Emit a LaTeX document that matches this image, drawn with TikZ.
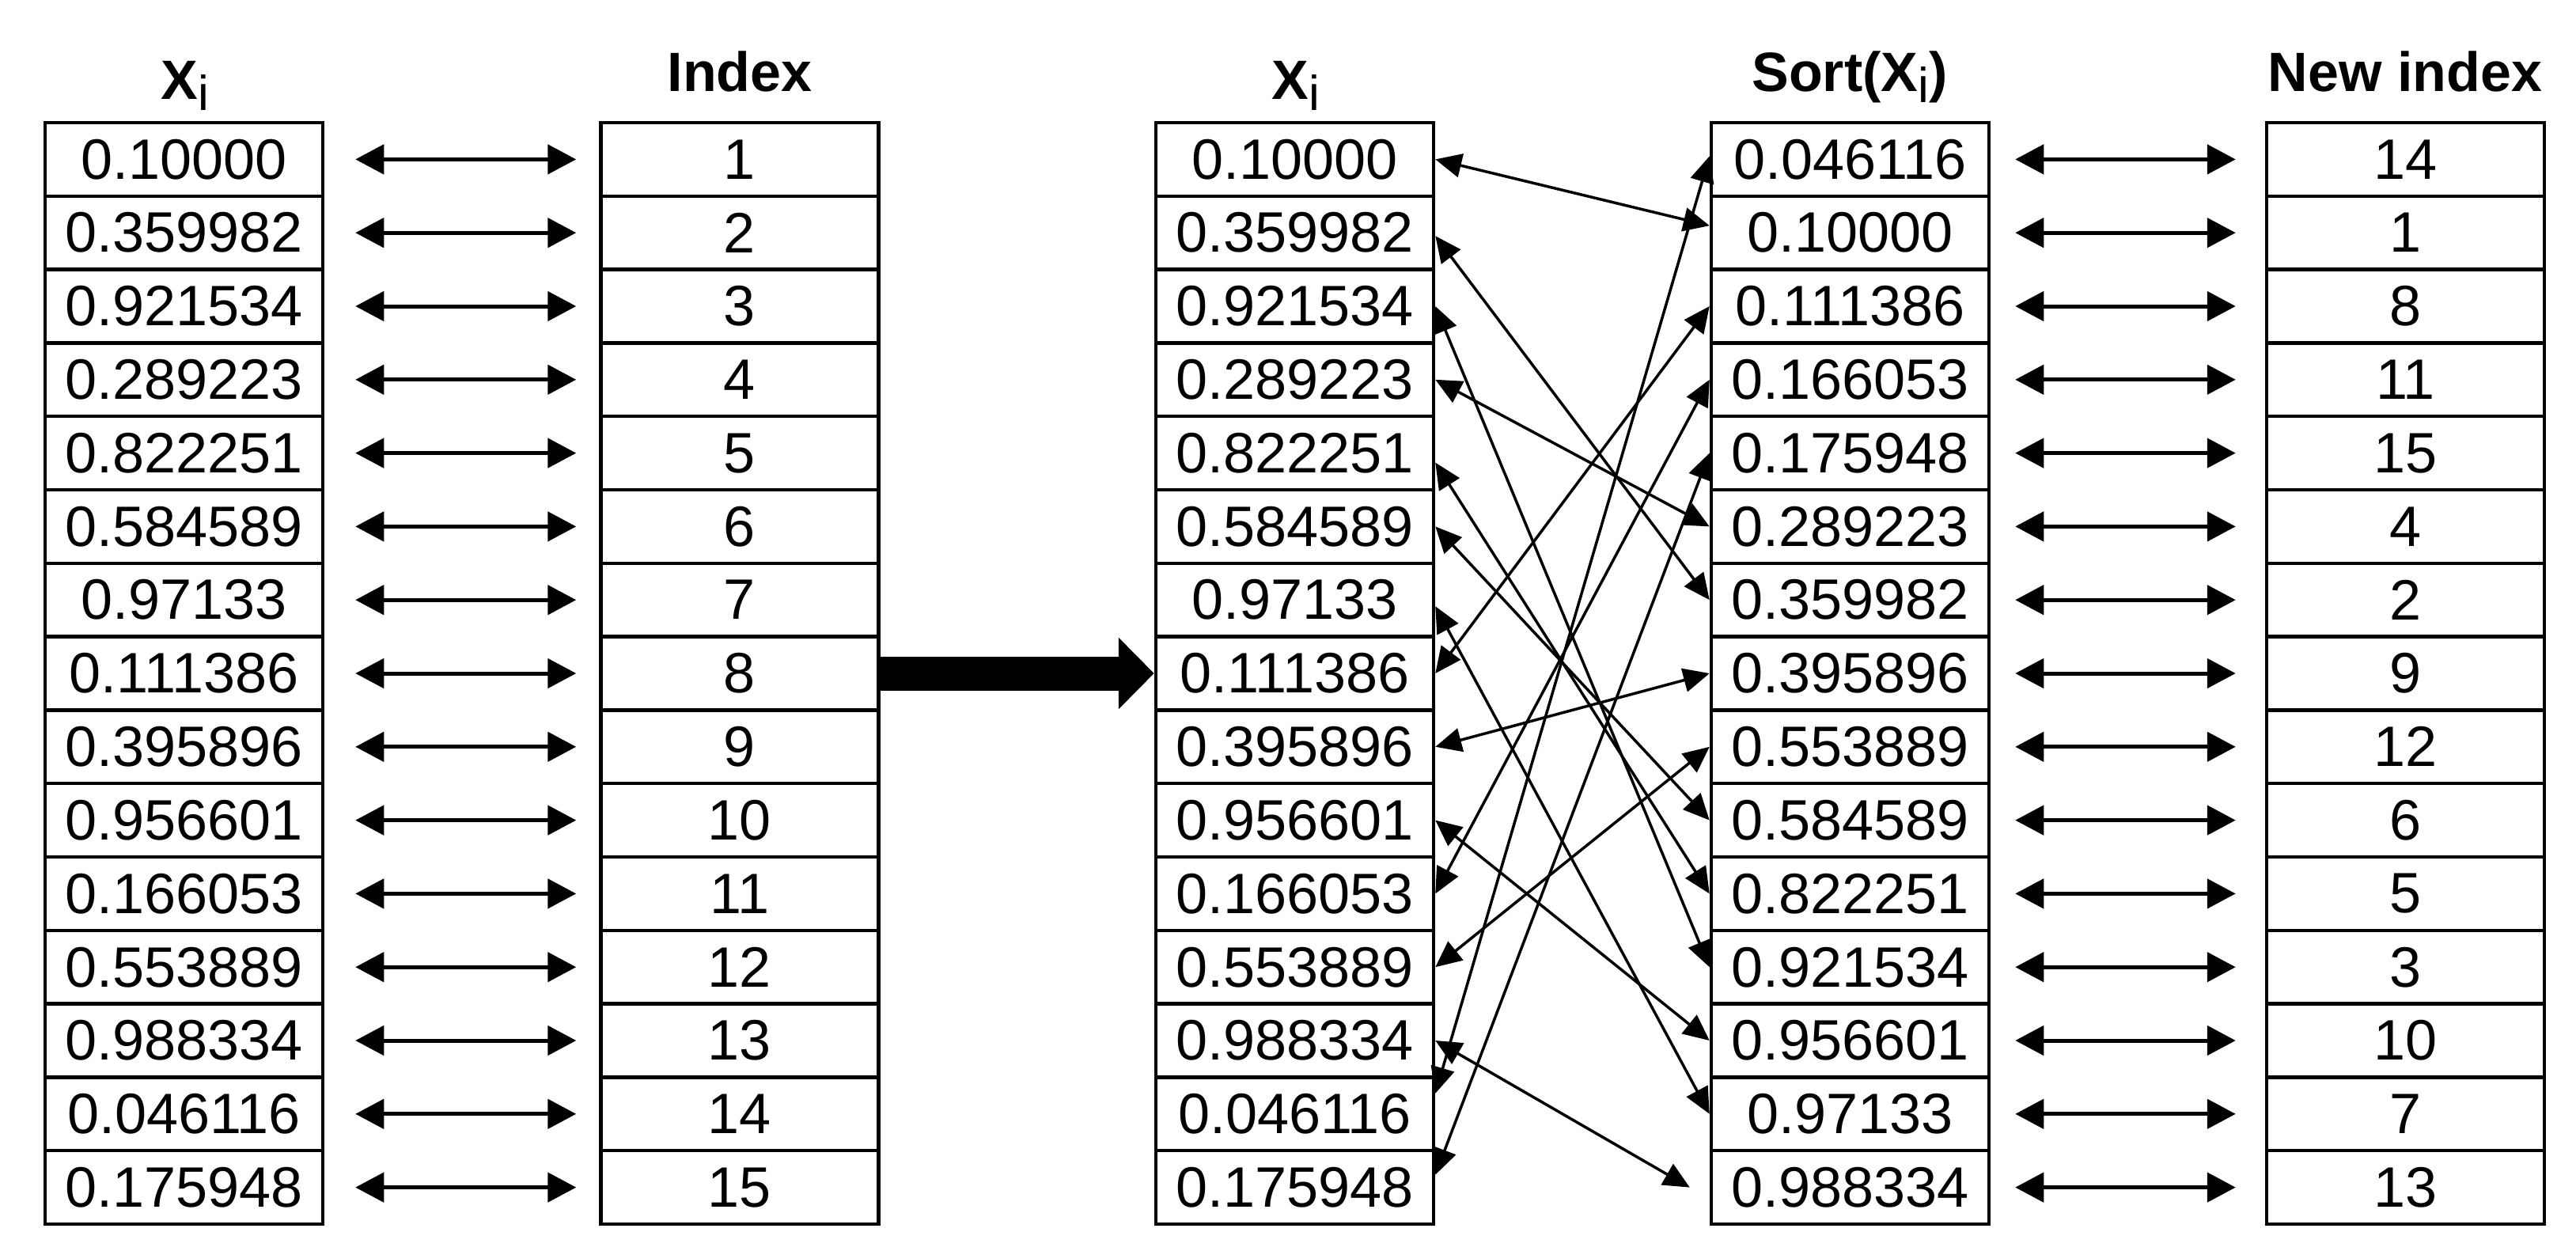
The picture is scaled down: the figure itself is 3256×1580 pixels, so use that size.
\documentclass[tikz,border=0pt]{standalone}
\usepackage{fontspec}
\setmainfont{Liberation Sans}
\usetikzlibrary{arrows.meta}
\begin{document}
\begin{tikzpicture}[x=1pt,y=-1pt,
  cell/.style={draw=black, line width=4.5pt, minimum width=351pt, minimum height=92.8pt, inner sep=0pt,
    font=\fontsize{72}{80}\selectfont},
  head/.style={anchor=base, inner sep=0pt, font=\bfseries\fontsize{70}{80}\selectfont},
  pairarr/.style={line width=5pt, {Triangle[length=36pt,width=37pt]}-{Triangle[length=36pt,width=37pt]}},
  crossarr/.style={line width=3.5pt, {Triangle[length=33pt,width=30pt]}-{Triangle[length=33pt,width=30pt]}},
  bigarr/.style={line width=43pt, -{Triangle[length=45pt,width=88pt]}}
]
\useasboundingbox (0,0) rectangle (3256,1580);
\newcommand{\xsub}{X\raisebox{-14pt}{\mdseries\fontsize{62}{70}\selectfont i}}
% headers
\node[head] (hA) at (234,125) {\xsub};
\node[head] (hB) at (935,115) {Index};
\node[head] (hC) at (1638,125) {\xsub};
\node[head] (hD) at (2338,115) {Sort(\xsub)};
\node[head] (hE) at (3040,115) {New index};
% columns
\foreach \v [count=\i] in {0.10000,0.359982,0.921534,0.289223,0.822251,0.584589,0.97133,0.111386,0.395896,0.956601,0.166053,0.553889,0.988334,0.046116,0.175948}
  \node[cell] (a\i) at (232.5,{155+(\i-0.5)*92.8}) {\v};
\foreach \i in {1,...,15}
  \node[cell] (b\i) at (935,{155+(\i-0.5)*92.8}) {\i};
\foreach \v [count=\i] in {0.10000,0.359982,0.921534,0.289223,0.822251,0.584589,0.97133,0.111386,0.395896,0.956601,0.166053,0.553889,0.988334,0.046116,0.175948}
  \node[cell] (c\i) at (1636.5,{155+(\i-0.5)*92.8}) {\v};
\foreach \v [count=\i] in {0.046116,0.10000,0.111386,0.166053,0.175948,0.289223,0.359982,0.395896,0.553889,0.584589,0.822251,0.921534,0.956601,0.97133,0.988334}
  \node[cell] (d\i) at (2338.5,{155+(\i-0.5)*92.8}) {\v};
\foreach \v [count=\i] in {14,1,8,11,15,4,2,9,12,6,5,3,10,7,13}
  \node[cell] (e\i) at (3040.5,{155+(\i-0.5)*92.8}) {\v};
% pair arrows
\foreach \i in {1,...,15}{
  \draw[pairarr] ([xshift=39pt]a\i.east) -- ([xshift=-29pt]b\i.west);
  \draw[pairarr] ([xshift=31pt]d\i.east) -- ([xshift=-37pt]e\i.west);
}
% big arrow
\draw[bigarr] (b8.east) -- (c8.west);
% crossing arrows: source row / target row / start yshift / end yshift / end xshift
\foreach \i/\r/\sy/\ey/\ex in {1/2/0/9/0, 2/7/-4/0/0, 3/12/0/0/0, 4/6/0/0/0, 5/11/-12/0/0, 6/10/0/0/0, 7/14/-8/0/0, 8/3/0/0/0, 9/8/0/0/0, 10/13/0/0/0, 11/4/0/0/0, 12/9/0/0/0, 13/15/0/0/-25, 14/1/26/4/0, 15/5/16/0/0}
  \draw[crossarr] ([yshift=\sy pt]c\i.east) -- ([xshift=\ex pt, yshift=\ey pt]d\r.west);
\end{tikzpicture}
\end{document}
